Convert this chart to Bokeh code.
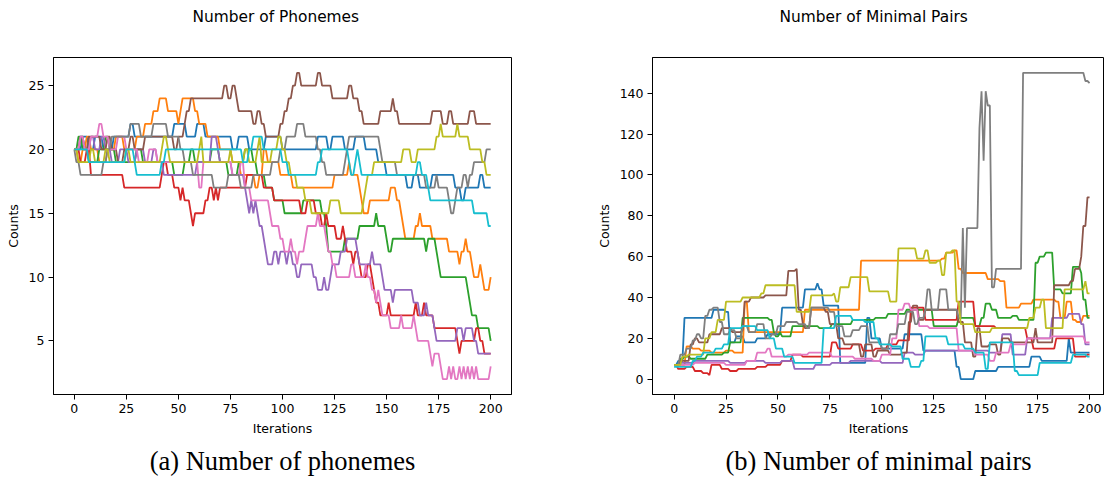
from bokeh.plotting import figure
from bokeh.layouts import row
from bokeh.models import Title, FixedTicker, Range1d
from bokeh.embed import file_html
from bokeh.resources import INLINE

# tab10 colour cycle (matplotlib default)
COLORS = ["#1f77b4", "#ff7f0e", "#2ca02c", "#d62728", "#9467bd",
          "#8c564b", "#e377c2", "#7f7f7f", "#bcbd22", "#17becf"]

X_TICKS = [0, 25, 50, 75, 100, 125, 150, 175, 200]
PH_Y_TICKS = [5, 10, 15, 20, 25]
MP_Y_TICKS = [0, 20, 40, 60, 80, 100, 120, 140]
LAST_ITER = 200

# ---------------- (a) Number of phonemes: (iteration, new value) change points ----------------
PH_BLUE = [(0, 20), (4, 21), (7, 20), (10, 21), (14, 20), (19, 21), (27, 22), (29, 21), (48, 22), (54, 21),
           (59, 22), (63, 21), (76, 20), (79, 21), (84, 20), (92, 21), (100, 20), (117, 21), (122, 20), (124, 21),
           (130, 20), (135, 21), (140, 20), (146, 19), (150, 18), (160, 17), (163, 18), (166, 17), (172, 18),
           (183, 17), (186, 16), (188, 17), (195, 18), (197, 17)]
PH_ORANGE = [(0, 20), (2, 19), (4, 20), (6, 21), (8, 20), (12, 19), (16, 20), (20, 21), (24, 20), (30, 21),
             (34, 22), (38, 23), (41, 24), (45, 23), (50, 22), (51, 23), (52, 24), (58, 23), (60, 22), (64, 21),
             (70, 20), (76, 19), (80, 18), (87, 17), (89, 18), (91, 20), (93, 19), (99, 18), (105, 17), (125, 18),
             (132, 19), (133, 18), (137, 17), (138, 16), (139, 15), (142, 16), (152, 17), (155, 16), (157, 15),
             (158, 14), (159, 13), (164, 14), (166, 15), (167, 14), (172, 13), (180, 12), (185, 11), (186, 12),
             (188, 13), (189, 12), (191, 11), (192, 10), (195, 11), (196, 10), (197, 9), (200, 10)]
PH_GREEN = [(0, 20), (2, 21), (4, 20), (7, 19), (12, 20), (15, 21), (17, 20), (20, 19), (30, 20), (33, 19),
            (48, 18), (53, 19), (56, 20), (58, 19), (66, 20), (70, 19), (74, 18), (79, 19), (82, 20), (86, 19),
            (88, 18), (92, 17), (96, 16), (101, 15), (110, 16), (119, 15), (121, 14), (122, 12), (130, 13),
            (137, 14), (145, 15), (146, 14), (150, 13), (151, 12), (153, 13), (169, 12), (170, 13), (174, 12),
            (175, 11), (176, 10), (189, 9), (190, 8), (191, 7), (194, 6), (200, 5)]
PH_RED = [(0, 20), (3, 19), (6, 20), (8, 18), (24, 17), (42, 18), (43, 19), (45, 18), (48, 17), (51, 16),
          (52, 17), (53, 16), (56, 15), (57, 14), (58, 15), (63, 16), (65, 17), (67, 16), (68, 17), (69, 16),
          (70, 17), (83, 18), (91, 17), (96, 16), (109, 15), (112, 16), (116, 15), (119, 14), (121, 15),
          (122, 14), (126, 13), (129, 14), (130, 13), (131, 12), (134, 11), (135, 12), (137, 11), (138, 10),
          (141, 11), (143, 10), (144, 9), (145, 8), (147, 7), (151, 8), (152, 7), (164, 8), (165, 7), (168, 8),
          (169, 7), (173, 6), (184, 5), (185, 4), (186, 5), (193, 6), (195, 5), (197, 4)]
PH_PURPLE = [(0, 20), (3, 21), (5, 20), (8, 21), (10, 20), (13, 21), (15, 20), (18, 19), (22, 20), (26, 19),
             (30, 20), (34, 19), (38, 20), (40, 19), (43, 18), (59, 19), (66, 21), (69, 20), (70, 19), (76, 18),
             (82, 17), (83, 16), (84, 15), (85, 16), (86, 15), (87, 16), (88, 15), (89, 14), (91, 13), (92, 12),
             (93, 11), (96, 12), (98, 11), (99, 12), (102, 11), (103, 12), (105, 11), (107, 10), (109, 11),
             (115, 10), (117, 9), (120, 10), (121, 9), (123, 10), (124, 11), (128, 12), (131, 13), (136, 12),
             (137, 11), (143, 12), (144, 11), (148, 10), (149, 9), (153, 8), (154, 9), (163, 8), (166, 7),
             (169, 8), (170, 7), (173, 6), (174, 5), (184, 6), (187, 5), (188, 6), (192, 5), (194, 4)]
PH_BROWN = [(0, 20), (3, 21), (5, 20), (7, 21), (13, 20), (16, 21), (18, 20), (21, 19), (24, 20), (27, 21),
            (29, 20), (34, 21), (48, 20), (50, 21), (53, 22), (54, 23), (56, 24), (72, 25), (74, 24), (76, 25),
            (78, 24), (79, 23), (86, 22), (88, 23), (90, 22), (92, 21), (99, 22), (101, 23), (103, 24),
            (105, 25), (107, 26), (109, 25), (117, 26), (119, 25), (124, 24), (132, 25), (134, 24), (137, 23),
            (139, 22), (147, 23), (153, 24), (154, 23), (156, 22), (172, 23), (177, 22), (180, 23), (182, 22),
            (190, 23), (193, 22)]
PH_PINK = [(0, 20), (3, 21), (5, 20), (8, 21), (12, 22), (14, 21), (17, 20), (21, 21), (25, 20), (31, 19),
           (36, 20), (40, 19), (60, 17), (62, 19), (76, 18), (80, 19), (82, 17), (85, 16), (94, 15), (95, 14),
           (99, 13), (101, 12), (104, 13), (105, 12), (107, 11), (108, 12), (111, 13), (112, 14), (117, 15),
           (118, 14), (121, 13), (122, 12), (124, 11), (126, 10), (133, 11), (135, 10), (140, 11), (141, 10),
           (143, 9), (145, 8), (146, 9), (147, 8), (148, 7), (152, 6), (157, 7), (158, 6), (163, 7), (164, 6),
           (165, 5), (171, 4), (172, 3), (173, 4), (176, 3), (177, 2), (180, 3), (181, 2), (182, 3), (183, 2),
           (185, 3), (186, 2), (187, 3), (188, 2), (189, 3), (190, 2), (191, 3), (192, 2), (193, 3), (194, 2),
           (200, 3)]
PH_GRAY = [(0, 20), (1, 19), (3, 18), (14, 19), (16, 20), (18, 21), (27, 22), (32, 21), (38, 22), (45, 21),
           (51, 20), (53, 19), (57, 18), (67, 17), (74, 18), (80, 17), (86, 18), (95, 19), (99, 20), (102, 21),
           (107, 22), (111, 21), (117, 20), (119, 19), (121, 18), (130, 19), (131, 20), (132, 21), (147, 20),
           (148, 19), (155, 18), (169, 17), (174, 18), (175, 17), (180, 16), (181, 15), (183, 16), (184, 17),
           (187, 18), (189, 17), (190, 18), (192, 19), (198, 20)]
PH_OLIVE = [(0, 20), (2, 19), (8, 20), (10, 19), (15, 20), (17, 19), (25, 20), (27, 19), (42, 20), (43, 21),
            (45, 20), (46, 19), (60, 20), (61, 21), (62, 19), (75, 20), (76, 19), (82, 20), (84, 19), (88, 20),
            (89, 21), (90, 19), (95, 20), (98, 21), (100, 20), (102, 19), (104, 18), (107, 17), (111, 16),
            (114, 15), (123, 16), (128, 15), (139, 16), (140, 17), (141, 18), (144, 19), (158, 20), (162, 19),
            (165, 20), (174, 21), (176, 22), (177, 21), (184, 22), (185, 21), (190, 20), (196, 19), (198, 18)]
PH_CYAN = [(0, 20), (7, 19), (25, 20), (29, 19), (30, 18), (42, 19), (44, 20), (81, 19), (84, 20), (86, 21),
           (91, 20), (100, 19), (103, 18), (117, 19), (119, 20), (132, 19), (133, 18), (135, 19), (136, 20),
           (137, 19), (138, 18), (165, 19), (167, 18), (170, 17), (171, 16), (192, 15), (199, 14)]

# ---------------- (b) Number of minimal pairs: (iteration, new value) change points ----------------
MP_BLUE = [(0, 7), (2, 9), (5, 30), (17, 30), (19, 34), (25, 33), (27, 18), (30, 21), (34, 18), (40, 20),
           (45, 22), (52, 35), (63, 44), (69, 47), (70, 44), (72, 36), (80, 8), (87, 8), (93, 30), (95, 20),
           (100, 15), (111, 22), (120, 14), (136, 6), (138, 0), (145, 4), (156, 6), (172, 11), (177, 9),
           (190, 20), (191, 13)]
MP_ORANGE = [(0, 7), (6, 16), (9, 15), (13, 14), (18, 13), (25, 14), (29, 13), (34, 38), (36, 23), (63, 34),
             (90, 58), (109, 58), (129, 59), (131, 62), (135, 63), (137, 54), (139, 52), (151, 49), (157, 48),
             (160, 35), (167, 37), (173, 39), (184, 38), (186, 30), (189, 38), (192, 29), (194, 28), (197, 31)]
MP_GREEN = [(0, 7), (3, 10), (5, 11), (8, 10), (16, 12), (24, 13), (27, 18), (33, 30), (46, 29), (48, 23),
            (49, 21), (51, 23), (52, 21), (57, 26), (70, 25), (76, 27), (86, 29), (97, 30), (103, 32), (112, 34),
            (125, 26), (137, 30), (145, 26), (148, 30), (150, 37), (153, 34), (156, 30), (163, 31), (166, 29),
            (174, 57), (176, 60), (179, 62), (183, 44), (187, 42), (192, 55), (196, 52), (197, 39), (199, 30)]
MP_RED = [(0, 7), (2, 5), (6, 6), (10, 4), (14, 3), (17, 2), (18, 7), (23, 5), (27, 4), (31, 5), (40, 6),
          (45, 7), (52, 9), (57, 12), (62, 11), (76, 18), (79, 15), (86, 17), (91, 14), (97, 15), (103, 17),
          (108, 19), (114, 35), (121, 29), (137, 38), (145, 26), (155, 25), (170, 20), (173, 15), (184, 20),
          (193, 11), (199, 12)]
MP_PURPLE = [(0, 7), (3, 8), (10, 9), (20, 9), (27, 8), (35, 9), (44, 8), (52, 9), (58, 5), (68, 7), (76, 8),
             (85, 9), (100, 8), (111, 13), (116, 12), (121, 14), (152, 13), (158, 22), (163, 12), (170, 20),
             (182, 30), (190, 32), (196, 27), (198, 17)]
MP_BROWN = [(0, 7), (3, 9), (8, 17), (10, 20), (12, 18), (17, 22), (23, 25), (28, 23), (33, 24), (34, 38),
            (37, 40), (44, 41), (55, 53), (59, 54), (60, 34), (62, 27), (63, 25), (66, 35), (73, 33), (75, 27),
            (79, 20), (82, 17), (90, 11), (92, 17), (96, 11), (98, 14), (104, 12), (110, 13), (113, 28),
            (115, 36), (118, 29), (121, 34), (137, 28), (140, 18), (144, 11), (146, 25), (148, 16), (152, 17),
            (156, 12), (158, 20), (162, 18), (174, 25), (175, 18), (183, 46), (191, 48), (193, 54), (196, 60),
            (197, 75), (199, 89)]
MP_PINK = [(0, 7), (10, 8), (25, 7), (35, 9), (40, 13), (45, 15), (47, 11), (55, 12), (65, 13), (76, 11),
           (87, 10), (96, 9), (100, 12), (105, 20), (108, 34), (111, 37), (114, 34), (118, 26), (123, 25),
           (137, 14), (145, 12), (152, 9), (155, 13), (162, 17), (170, 20), (182, 21), (198, 18)]
MP_GRAY = [(0, 7), (3, 12), (6, 15), (9, 19), (11, 22), (13, 20), (15, 31), (17, 34), (19, 35), (22, 28),
           (24, 22), (27, 24), (30, 20), (33, 26), (36, 23), (40, 27), (44, 20), (47, 22), (50, 26), (54, 28),
           (60, 27), (64, 25), (66, 35), (75, 33), (78, 26), (82, 21), (86, 24), (90, 26), (94, 18), (100, 15),
           (104, 22), (108, 27), (112, 33), (116, 27), (118, 30), (121, 34), (122, 44), (124, 34), (128, 44),
           (132, 34), (137, 30), (139, 74), (140, 35), (141, 74), (146, 74), (147, 123), (148, 141),
           (149, 107), (150, 141), (151, 134), (153, 45), (155, 54), (168, 150), (196, 150), (198, 146),
           (200, 145)]
MP_OLIVE = [(0, 7), (4, 11), (7, 12), (15, 20), (18, 23), (21, 29), (25, 38), (33, 40), (42, 42), (44, 46),
            (59, 33), (66, 41), (77, 42), (78, 38), (80, 45), (85, 50), (94, 43), (104, 38), (108, 64),
            (117, 59), (121, 63), (123, 57), (127, 58), (129, 51), (131, 62), (134, 63), (136, 38), (138, 27),
            (145, 23), (153, 25), (167, 25), (171, 30), (174, 35), (177, 39), (179, 25), (188, 44), (198, 48),
            (199, 42)]
MP_CYAN = [(0, 6), (9, 9), (11, 11), (14, 13), (20, 15), (24, 17), (27, 25), (33, 26), (40, 24), (46, 20),
           (49, 15), (53, 11), (58, 8), (72, 25), (78, 31), (86, 29), (92, 28), (97, 20), (99, 17), (105, 16),
           (110, 10), (114, 6), (119, 9), (121, 21), (132, 17), (140, 15), (145, 13), (150, 5), (152, 18),
           (164, 4), (166, 2), (176, 8), (192, 12), (199, 11)]

PHONEMES = [PH_BLUE, PH_ORANGE, PH_GREEN, PH_RED, PH_PURPLE, PH_BROWN, PH_PINK, PH_GRAY, PH_OLIVE, PH_CYAN]
MIN_PAIRS = [MP_BLUE, MP_ORANGE, MP_GREEN, MP_RED, MP_PURPLE, MP_BROWN, MP_PINK, MP_GRAY, MP_OLIVE, MP_CYAN]


def series_xy(points):
    """Per-iteration series: each value holds until the iteration before the next change."""
    xs = [points[0][0]]
    ys = [points[0][1]]
    for it, v in points[1:]:
        if it - 1 > xs[-1]:
            xs.append(it - 1)
            ys.append(ys[-1])
        xs.append(it)
        ys.append(v)
    if xs[-1] < LAST_ITER:
        xs.append(LAST_ITER)
        ys.append(ys[-1])
    return xs, ys


def make_panel(title, caption, series, x_range, y_range, y_ticks, border_left, border_right,
               title_offset):
    p = figure(width=552, height=480, output_backend="svg", toolbar_location=None,
               x_range=Range1d(*x_range), y_range=Range1d(*y_range),
               min_border_left=border_left, min_border_right=border_right,
               min_border_top=56, min_border_bottom=84)
    p.background_fill_color = "white"
    p.border_fill_color = "white"
    p.outline_line_color = "black"
    p.outline_line_alpha = 1
    p.outline_line_width = 1
    p.xgrid.visible = False
    p.ygrid.visible = False

    # spacer between frame and title, so the title sits higher
    p.add_layout(Title(text=" ", text_font_size="1px", standoff=24), "above")

    p.title.text = title
    p.title.align = "left"
    p.title.offset = title_offset
    p.title.text_font = "DejaVu Sans"
    p.title.text_font_size = "15.4px"
    p.title.text_font_style = "normal"
    p.title.text_color = "black"
    p.title.standoff = 10

    p.xaxis.ticker = FixedTicker(ticks=X_TICKS)
    p.yaxis.ticker = FixedTicker(ticks=y_ticks)
    p.xaxis.axis_label = "Iterations"
    p.yaxis.axis_label = "Counts"
    for ax in (p.xaxis, p.yaxis):
        ax.axis_line_color = "black"
        ax.major_tick_line_color = "black"
        ax.minor_tick_line_color = None
        ax.major_tick_in = 0
        ax.major_tick_out = 5
        ax.major_label_standoff = 4
        ax.major_label_text_font = "DejaVu Sans"
        ax.major_label_text_font_size = "12.5px"
        ax.major_label_text_color = "black"
        ax.axis_label_text_font = "DejaVu Sans"
        ax.axis_label_text_font_size = "12.5px"
        ax.axis_label_text_font_style = "normal"
        ax.axis_label_text_color = "black"
        ax.axis_label_standoff = 5

    for pts, color in zip(series, COLORS):
        xs, ys = series_xy(pts)
        p.line(x=xs, y=ys, line_color=color, line_width=1.8)

    p.add_layout(Title(text=caption, align="center", text_font="Liberation Serif",
                       text_font_size="26.5px", text_font_style="normal", text_color="black",
                       standoff=10), "below")
    return p


p1 = make_panel("Number of Phonemes", "(a) Number of phonemes", PHONEMES,
                (-10, 210), (0.8, 27.2), PH_Y_TICKS, 53, 41, 139)
p2 = make_panel("Number of Minimal Pairs", "(b) Number of minimal pairs", MIN_PAIRS,
                (-10.4, 207.2), (-7.5, 157.5), MP_Y_TICKS, 100, 0, 127)

layout = row(p1, p2)
open("out.html", "w").write(file_html(layout, INLINE))
